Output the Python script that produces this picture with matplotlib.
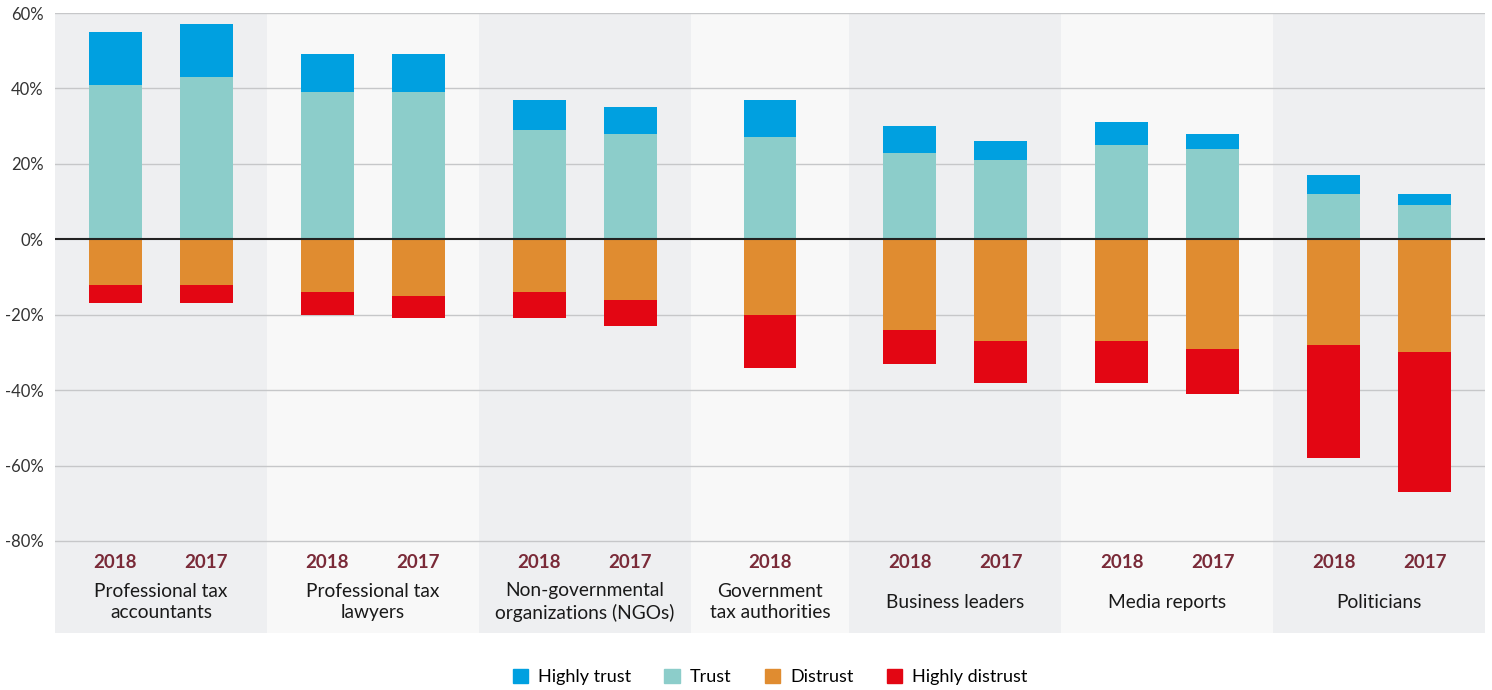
import matplotlib.pyplot as plt
from matplotlib.patches import Patch

plt.rcParams['font.family'] = ['Lato', 'DejaVu Sans']

# data (percent of respondents)
categories = ["Professional tax\naccountants", "Professional tax\nlawyers",
              "Non-governmental\norganizations (NGOs)", "Government\ntax authorities",
              "Business leaders", "Media reports", "Politicians"]
years = [["2018", "2017"], ["2018", "2017"], ["2018", "2017"], ["2018"],
         ["2018", "2017"], ["2018", "2017"], ["2018", "2017"]]

highly_trust = [14, 14, 10, 10, 8, 7, 10, 7, 5, 6, 4, 5, 3]
trust = [41, 43, 39, 39, 29, 28, 27, 23, 21, 25, 24, 12, 9]
distrust = [12, 12, 14, 15, 14, 16, 20, 24, 27, 27, 29, 28, 30]
highly_distrust = [5, 5, 6, 6, 7, 7, 14, 9, 11, 11, 12, 30, 37]

col_ht = "#00a0e0"
col_t = "#8ccdca"
col_d = "#e08c30"
col_hd = "#e30613"
band_cols = ["#eeeff1", "#f8f8f8"]

fig = plt.figure(figsize=(14.92, 6.9), dpi=100)
ax = fig.add_axes([55 / 1492, 1 - 633 / 690, 1430 / 1492, 620 / 690])

# layout: each bar slot 91 px, bar 53 px wide, band = 53*(n+2)
spacing = 91
bar_w = 53
xs = []
left = 0
for g, yrs in enumerate(years):
    n = len(yrs)
    bw = 53 * (n + 2)
    centre = left + bw / 2
    ax.axvspan(left, left + bw, color=band_cols[g % 2], zorder=0, lw=0)
    pos = [centre + (i - (n - 1) / 2) * spacing for i in range(n)]
    for p, y in zip(pos, yrs):
        ax.text(p, -85.8, y, ha='center', va='center', fontsize=13.5,
                fontweight='bold', color='#7a2a38')
    ax.text(centre, -96.2, categories[g], ha='center', va='center',
            fontsize=13.8, color='#1a1a1a', linespacing=1.3)
    xs.extend(pos)
    left += bw

for yv in range(-80, 61, 20):
    if yv != 0:
        ax.axhline(yv, color='#c6c7c9', lw=1, zorder=1)

neg_d = [-v for v in distrust]
neg_hd = [-v for v in highly_distrust]
ax.bar(xs, trust, bar_w, color=col_t, zorder=2, label='Trust')
ax.bar(xs, highly_trust, bar_w, bottom=trust, color=col_ht, zorder=2, label='Highly trust')
ax.bar(xs, neg_d, bar_w, color=col_d, zorder=2, label='Distrust')
ax.bar(xs, neg_hd, bar_w, bottom=neg_d, color=col_hd, zorder=2, label='Highly distrust')
ax.axhline(0, color='#222222', lw=1.5, zorder=3)

ax.set_xlim(0, left)
ax.set_ylim(60 - 620 / 3.7714, 60)
ax.set_yticks(range(-80, 61, 20))
ax.set_yticklabels([f"{v}%" for v in range(-80, 61, 20)], fontsize=12, color='#333333')
ax.set_xticks([])
ax.tick_params(axis='y', length=0, pad=8)
for s in ax.spines.values():
    s.set_visible(False)

handles = [Patch(color=col_ht, label='Highly trust'), Patch(color=col_t, label='Trust'),
           Patch(color=col_d, label='Distrust'), Patch(color=col_hd, label='Highly distrust')]
fig.legend(handles=handles, loc='center', bbox_to_anchor=(770 / 1492, 1 - 677 / 690),
           ncol=4, frameon=False, fontsize=13, handlelength=0.85, handleheight=0.85,
           handletextpad=0.55, columnspacing=1.85)

fig.savefig("out.png", dpi=100)
